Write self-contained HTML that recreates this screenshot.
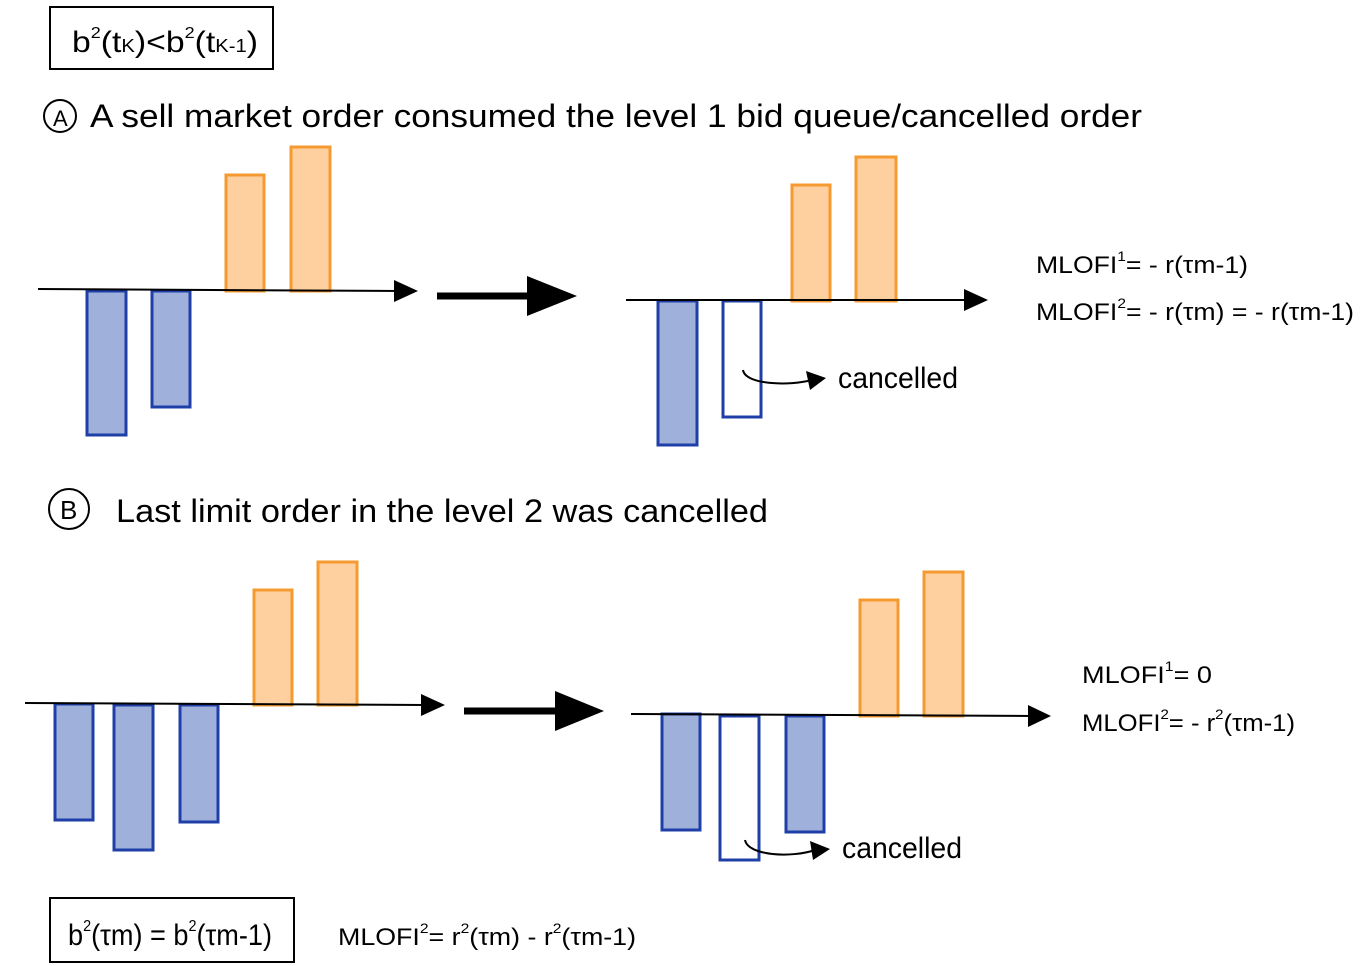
<!DOCTYPE html>
<html><head><meta charset="utf-8"><style>
html,body{margin:0;padding:0;background:#fff;}
svg{display:block;}
text{font-family:"Liberation Sans",sans-serif;fill:#000;}
.b{fill:#9fb0da;stroke:#1f3fa8;stroke-width:3;}
.h{fill:#fff;stroke:#1f3fa8;stroke-width:3;}
.o{fill:#fed0a0;stroke:#f59a30;stroke-width:3;}
.ax{stroke:#000;stroke-width:2;fill:none;}
</style></head><body>
<svg width="1363" height="966" viewBox="0 0 1363 966">
<!-- top box -->
<rect x="50" y="7" width="223" height="62" fill="none" stroke="#000" stroke-width="2"/>
<text x="72" y="52" font-size="30" textLength="186" lengthAdjust="spacingAndGlyphs">b<tspan font-size="16" dy="-14">2</tspan><tspan dy="14">(t</tspan><tspan font-size="18">K</tspan>)&lt;b<tspan font-size="16" dy="-14">2</tspan><tspan dy="14">(t</tspan><tspan font-size="18">K-1</tspan>)</text>
<!-- A header -->
<circle cx="60" cy="116" r="16" fill="none" stroke="#000" stroke-width="2"/>
<text x="53" y="126" font-size="22">A</text>
<text x="90" y="127" font-size="32" textLength="1052" lengthAdjust="spacingAndGlyphs">A sell market order consumed the level 1 bid queue/cancelled order</text>

<!-- A left -->
<rect class="b" x="87" y="291" width="39" height="144"/>
<rect class="b" x="152" y="291" width="38" height="116"/>
<rect class="o" x="226" y="175" width="38" height="116"/>
<rect class="o" x="291" y="147" width="39" height="144"/>
<line class="ax" x1="38" y1="289" x2="400" y2="291"/>
<polygon points="394,280 418,291 394,302"/>
<line x1="437" y1="296" x2="532" y2="296" stroke="#000" stroke-width="7"/>
<polygon points="527,276 577,296 527,316"/>

<!-- A right -->
<rect class="b" x="658" y="301" width="39" height="144"/>
<rect class="h" x="723" y="301" width="38" height="116"/>
<rect class="o" x="792" y="185" width="38" height="116"/>
<rect class="o" x="856" y="157" width="40" height="144"/>
<line class="ax" x1="626" y1="300" x2="970" y2="300"/>
<polygon points="964,289 988,300 964,311"/>
<path d="M743,370 C745,385 790,386 812,380" class="ax"/>
<polygon points="806,371 826,378 810,390"/>
<text x="838" y="388" font-size="30" textLength="120" lengthAdjust="spacingAndGlyphs">cancelled</text>
<text x="1036" y="273" font-size="24" textLength="212" lengthAdjust="spacingAndGlyphs">MLOFI<tspan font-size="14" dy="-12">1</tspan><tspan dy="12">= - r(τm-1)</tspan></text>
<text x="1036" y="320" font-size="24" textLength="318" lengthAdjust="spacingAndGlyphs">MLOFI<tspan font-size="14" dy="-12">2</tspan><tspan dy="12">= - r(τm) = - r(τm-1)</tspan></text>

<!-- B header -->
<circle cx="69" cy="509" r="20" fill="none" stroke="#000" stroke-width="2"/>
<text x="60" y="519" font-size="26">B</text>
<text x="116" y="522" font-size="32" textLength="652" lengthAdjust="spacingAndGlyphs">Last limit order in the level 2 was cancelled</text>

<!-- B left -->
<rect class="b" x="55" y="704" width="38" height="116"/>
<rect class="b" x="114" y="705" width="39" height="145"/>
<rect class="b" x="180" y="705" width="38" height="117"/>
<rect class="o" x="254" y="590" width="38" height="115"/>
<rect class="o" x="318" y="562" width="39" height="143"/>
<line class="ax" x1="25" y1="703" x2="425" y2="705"/>
<polygon points="421,694 445,705 421,716"/>
<line x1="464" y1="711" x2="560" y2="711" stroke="#000" stroke-width="7"/>
<polygon points="555,691 604,711 555,731"/>

<!-- B right -->
<rect class="b" x="662" y="714" width="38" height="116"/>
<rect class="h" x="720" y="716" width="39" height="144"/>
<rect class="b" x="786" y="716" width="38" height="116"/>
<rect class="o" x="860" y="600" width="38" height="116"/>
<rect class="o" x="924" y="572" width="39" height="144"/>
<line class="ax" x1="631" y1="714" x2="1032" y2="716"/>
<polygon points="1028,705 1051,716 1028,727"/>
<path d="M745,840 C748,856 792,858 815,850" class="ax"/>
<polygon points="810,841 830,849 813,860"/>
<text x="842" y="858" font-size="30" textLength="120" lengthAdjust="spacingAndGlyphs">cancelled</text>
<text x="1082" y="683" font-size="24" textLength="130" lengthAdjust="spacingAndGlyphs">MLOFI<tspan font-size="14" dy="-12">1</tspan><tspan dy="12">= 0</tspan></text>
<text x="1082" y="731" font-size="24" textLength="213" lengthAdjust="spacingAndGlyphs">MLOFI<tspan font-size="14" dy="-12">2</tspan><tspan dy="12">= - r</tspan><tspan font-size="14" dy="-12">2</tspan><tspan dy="12">(τm-1)</tspan></text>

<!-- bottom -->
<rect x="50" y="898" width="244" height="64" fill="none" stroke="#000" stroke-width="2"/>
<text x="68" y="945" font-size="30" textLength="204" lengthAdjust="spacingAndGlyphs">b<tspan font-size="16" dy="-14">2</tspan><tspan dy="14">(τm) = b</tspan><tspan font-size="16" dy="-14">2</tspan><tspan dy="14">(τm-1)</tspan></text>
<text x="338" y="945" font-size="24" textLength="298" lengthAdjust="spacingAndGlyphs">MLOFI<tspan font-size="14" dy="-12">2</tspan><tspan dy="12">= r</tspan><tspan font-size="14" dy="-12">2</tspan><tspan dy="12">(τm) - r</tspan><tspan font-size="14" dy="-12">2</tspan><tspan dy="12">(τm-1)</tspan></text>
</svg>
</body></html>
